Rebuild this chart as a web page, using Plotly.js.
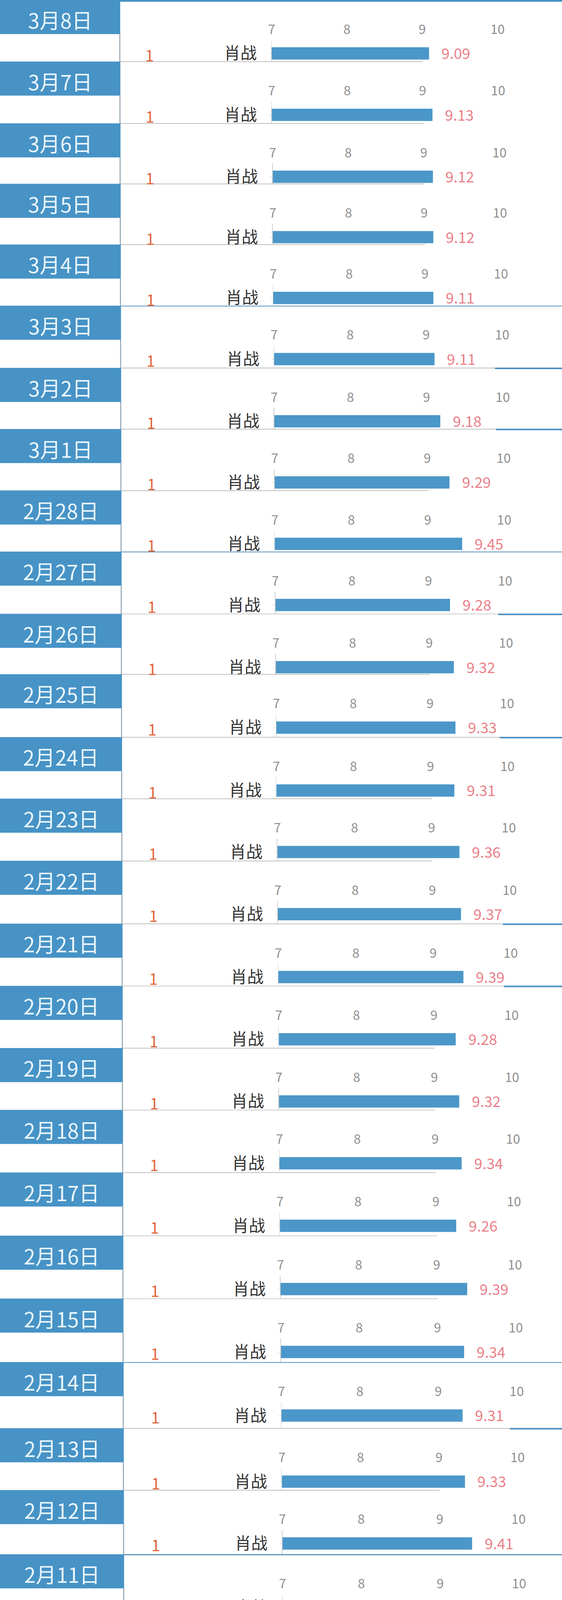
<!DOCTYPE html>
<html>
<head>
<meta charset="utf-8">
<script src="https://cdn.plot.ly/plotly-3.0.1.min.js"></script>
<style>
    html, body { margin: 0; padding: 0; background: #fff; height: 4096px; overflow: hidden; }
    #wrap { width: 1440px; height: 4096px; overflow: hidden; }
</style>
</head>
<body>
<div id="wrap"><div id="chart"></div></div>
<script>
// daily ranking panels, newest first
const dates = ['3月8日', '3月7日', '3月6日', '3月5日', '3月4日', '3月3日', '3月2日', '3月1日',
    '2月28日', '2月27日', '2月26日', '2月25日', '2月24日', '2月23日', '2月22日', '2月21日',
    '2月20日', '2月19日', '2月18日', '2月17日', '2月16日', '2月15日', '2月14日', '2月13日',
    '2月12日', '2月11日'];
const ranks = [1, 1, 1, 1, 1, 1, 1, 1, 1, 1, 1, 1, 1, 1, 1, 1, 1, 1, 1, 1, 1, 1, 1, 1, 1, 1];
const topName = '肖战';
// last panel is cut off in the picture, its bar can't be read
const scores = [9.09, 9.13, 9.12, 9.12, 9.11, 9.11, 9.18, 9.29, 9.45, 9.28, 9.32, 9.33, 9.31,
    9.36, 9.37, 9.39, 9.28, 9.32, 9.34, 9.26, 9.39, 9.34, 9.31, 9.33, 9.41, null];
const tickVals = [7, 8, 9, 10];

// geometry measured on the 1440x4554 screenshot; the window only shows 4096px,
// so every vertical measure is squeezed by k to keep all panels on screen
const W = 1440;
const SRC_H = 4554, VIEW_H = 4096;
const k = VIEW_H / SRC_H;
const SRC_END = 4602;              // where the cut-off last panel would end
const PH = Math.round(SRC_END * k);
const fs = s => Math.round(s * Math.sqrt(k));

const panelTops = [0, 175, 351, 523, 696, 870, 1047, 1221, 1396, 1570, 1747, 1919, 2098,
    2273, 2450, 2629, 2806, 2983, 3159, 3337, 3517, 3696, 3877, 4065, 4241, 4424];
const tick9X = [1082, 1083, 1086, 1087, 1089, 1092, 1093, 1095, 1096, 1098, 1100, 1102, 1103,
    1106, 1108, 1110, 1112, 1113, 1115, 1117, 1119, 1121, 1123, 1125, 1127, 1128];
const sepStyle = ['top', 'gray', 'gray', 'gray', 'gray', 'full', 'right', 'right', 'gray', 'full',
    'right', 'gray', 'right', 'gray', 'gray', 'right', 'right', 'gray', 'gray', 'gray', 'gray',
    'gray', 'full', 'right', 'gray', 'full'];

const FONT = '"Noto Sans CJK SC", "Noto Sans", sans-serif';
const HEADER_BLUE = '#4793c6';
const BAR_BLUE = '#4b97c9';

const px = v => v / W;
const py = v => 1 - (v * k) / PH;

const data = [];
const shapes = [];
const annotations = [];
const layout = {
    width: W,
    height: PH,
    margin: { l: 0, r: 0, t: 0, b: 0 },
    paper_bgcolor: '#fff',
    plot_bgcolor: 'rgba(0,0,0,0)',
    showlegend: false,
    font: { family: FONT },
    shapes: shapes,
    annotations: annotations
};

function hline(x0, x1, y, color, width) {
    shapes.push({ type: 'line', xref: 'paper', yref: 'paper', x0: x0, x1: x1, y0: py(y), y1: py(y),
        line: { color: color, width: width } });
}

const last = dates.length - 1;
dates.forEach((d, i) => {
    const t = i / last;
    const top = panelTops[i];
    const bottom = i < last ? panelTops[i + 1] : SRC_END;
    const unit = 193 + 9 * t;
    const x9 = tick9X[i];
    const x7 = x9 - 2 * unit;
    const x10 = x9 + unit;
    const xh = 308 + 10 * t;
    const sfx = i === 0 ? '' : String(i + 1);

    // plot box: below the tick labels down to the panel bottom
    const yA = top + 114, yB = bottom, L = yB - yA, yc = top + 152;
    const r0 = -(yB - yc) / L;

    layout['xaxis' + sfx] = {
        domain: [px(x7), px(x7 + 3.5 * unit)],
        range: [7, 10.5],
        anchor: 'y' + sfx,
        side: 'top',
        tickvals: tickVals,
        ticks: '',
        showgrid: false,
        zeroline: false,
        showline: false,
        tickfont: { size: fs(35), color: '#8f8f8f', family: FONT },
        ticklabelstandoff: 8,
        fixedrange: true
    };
    layout['yaxis' + sfx] = {
        domain: [py(yB), py(yA)],
        type: 'category',
        categoryorder: 'array',
        categoryarray: [topName],
        range: [r0, r0 + 1],
        anchor: 'x' + sfx,
        showline: true,
        linecolor: '#cfcfcf',
        linewidth: 1.5,
        ticks: 'outside',
        ticklen: 6,
        tickcolor: '#cfcfcf',
        tickfont: { size: fs(44), color: '#333', family: FONT },
        ticklabelstandoff: 22,
        showgrid: false,
        zeroline: false,
        fixedrange: true
    };

    data.push({
        type: 'bar',
        orientation: 'h',
        x: [scores[i]],
        y: [topName],
        xaxis: 'x' + sfx,
        yaxis: 'y' + sfx,
        width: 35 / L,
        marker: { color: BAR_BLUE, line: { width: 0 } },
        hoverinfo: 'skip'
    });

    // date header block and left cell border
    shapes.push({ type: 'rect', xref: 'paper', yref: 'paper', x0: 0, x1: px(xh),
        y0: py(top + 97), y1: py(top), fillcolor: HEADER_BLUE, line: { width: 0 }, layer: 'below' });
    shapes.push({ type: 'line', xref: 'paper', yref: 'paper', x0: px(xh - 1), x1: px(xh - 1),
        y0: py(top + 97), y1: py(bottom), line: { color: '#8ea0ad', width: 2.5 } });

    // separator above the panel
    const s = sepStyle[i];
    if (s === 'top') {
        shapes.push({ type: 'rect', xref: 'paper', yref: 'paper', x0: 0, x1: 1,
            y0: py(top + 5), y1: py(top), fillcolor: HEADER_BLUE, line: { width: 0 } });
    } else if (s === 'gray') {
        hline(px(xh), px(x9), top + 0.5, '#9b9b9b', 1.2);
    } else if (s === 'full') {
        hline(px(xh), 1, top + 1, '#5b93bb', i === last ? 3 : 2);
    } else if (s === 'right') {
        hline(px(xh), px(x10 - 20), top + 0.5, '#9b9b9b', 1.2);
        hline(px(x10 - 20), 1, top + 1.5, '#4a8fc0', 4);
    }

    annotations.push({
        xref: 'paper', yref: 'paper', x: px(xh / 2), y: py(top + 56),
        text: d, showarrow: false, xanchor: 'center', yanchor: 'middle',
        font: { size: fs(56), color: '#eaf6fc', family: FONT }
    });
    annotations.push({
        xref: 'paper', yref: 'y' + sfx, x: px(383 + 17 * t), y: topName, yshift: -3,
        text: String(ranks[i]), showarrow: false, xanchor: 'center', yanchor: 'middle',
        font: { size: fs(42), color: '#e0663a', family: FONT }
    });
    if (scores[i] != null) {
        annotations.push({
            xref: 'x' + sfx, yref: 'y' + sfx, x: scores[i], y: topName, xshift: 30, yshift: 2,
            text: scores[i].toFixed(2), showarrow: false, xanchor: 'left', yanchor: 'middle',
            font: { size: fs(40), color: '#ea8088', family: FONT }
        });
    }
});

Plotly.newPlot('chart', data, layout, { staticPlot: true, displayModeBar: false });
</script>
</body>
</html>
